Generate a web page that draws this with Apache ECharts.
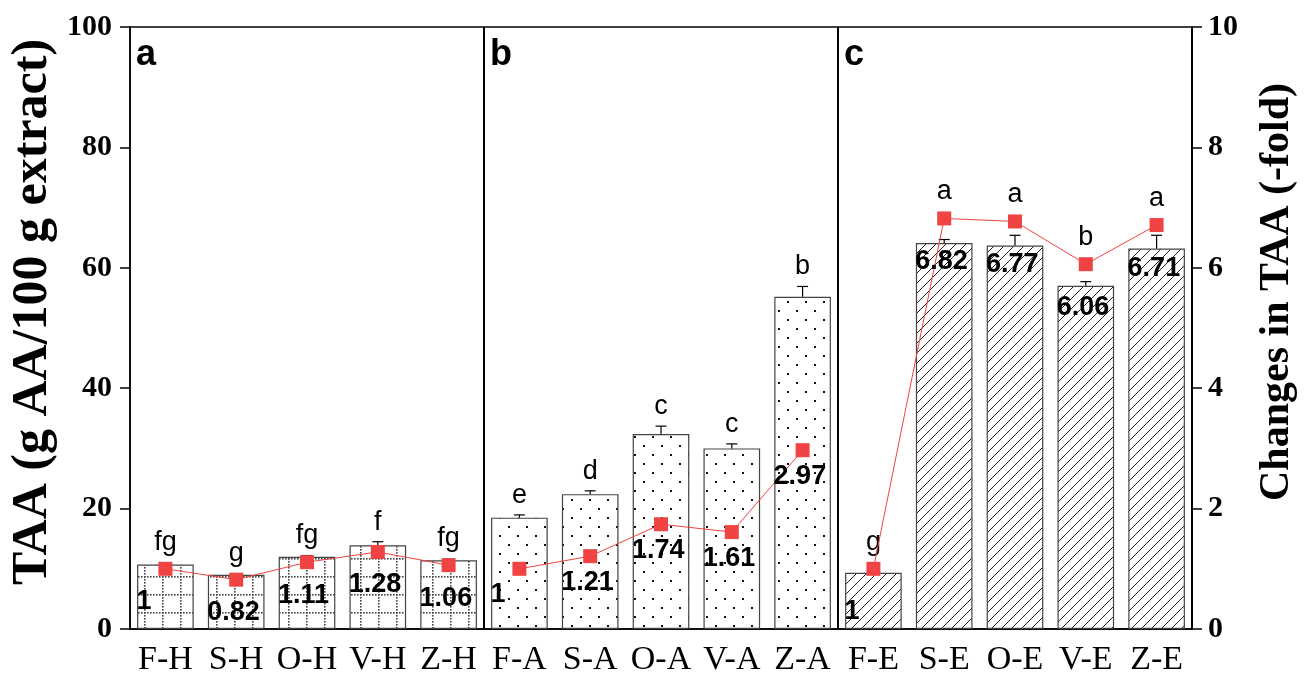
<!DOCTYPE html>
<html>
<head>
<meta charset="utf-8">
<script src="https://cdn.jsdelivr.net/npm/echarts@6/dist/echarts.min.js"></script>
<style>
html,body{margin:0;padding:0;background:#fff;}
#chart{width:1309px;height:679px;}
</style>
</head>
<body>
<div id="chart"></div>
<script>
// ---------- data ----------
const categories = ['F-H','S-H','O-H','V-H','Z-H','F-A','S-A','O-A','V-A','Z-A','F-E','S-E','O-E','V-E','Z-E'];
const taaValues  = [10.7, 9.0, 12.0, 13.9, 11.4, 18.5, 22.4, 32.4, 30.0, 55.2, 9.35, 64.1, 63.7, 57.0, 63.2];
const taaErrors  = [0.2, 0.15, 0.2, 0.6, 0.2, 0.45, 0.55, 1.3, 0.75, 1.7, 0.1, 0.6, 1.7, 0.7, 2.2];
const foldValues = [1, 0.82, 1.11, 1.28, 1.06, 1, 1.21, 1.74, 1.61, 2.97, 1, 6.82, 6.77, 6.06, 6.71];
const letters    = ['fg','g','fg','f','fg','e','d','c','c','b','g','a','a','b','a'];
const panelLabels = ['a','b','c'];
const leftTicks = [0, 20, 40, 60, 80, 100];
const rightTicks = [0, 2, 4, 6, 8, 10];

// ---------- styles ----------
const RED = '#f04343';
const SERIF = '"Liberation Serif", "Times New Roman", serif';
const SANS = '"Liberation Sans", Arial, sans-serif';
const foldLabelOffset = [33, 26, 43]; // px below marker, per panel

function makeGridPattern(){
  const c = document.createElement('canvas'); c.width = 18; c.height = 18;
  const g = c.getContext('2d');
  g.fillStyle = '#fff'; g.fillRect(0,0,18,18);
  g.fillStyle = '#444';
  for (let k = 0; k < 18; k += 3) { g.fillRect(k, 0, 1.6, 1.6); g.fillRect(0, k, 1.6, 1.6); }
  return c;
}
function makeDotPattern(){
  const c = document.createElement('canvas'); c.width = 18; c.height = 18;
  const g = c.getContext('2d');
  g.fillStyle = '#fff'; g.fillRect(0,0,18,18);
  g.fillStyle = '#111';
  g.fillRect(4, 4, 2, 2); g.fillRect(13, 13, 2, 2);
  return c;
}
function makeHatchPattern(){
  const c = document.createElement('canvas'); c.width = 10; c.height = 10;
  const g = c.getContext('2d');
  g.fillStyle = '#fff'; g.fillRect(0,0,10,10);
  g.strokeStyle = '#222'; g.lineWidth = 1;
  g.beginPath();
  g.moveTo(-1, 11); g.lineTo(11, -1);
  g.moveTo(-1, 1); g.lineTo(1, -1);
  g.moveTo(9, 11); g.lineTo(11, 9);
  g.stroke();
  return c;
}
const patterns = [makeGridPattern(), makeDotPattern(), makeHatchPattern()];

const barData = taaValues.map((v, i) => ({
  value: v,
  itemStyle: { color: { image: patterns[Math.floor(i / 5)], repeat: 'repeat' } }
}));

const lineSeries = [0, 1, 2].map(gIdx => ({
  type: 'line',
  yAxisIndex: 1,
  data: foldValues.map((v, i) => Math.floor(i / 5) === gIdx ? v : null),
  connectNulls: false,
  symbol: 'rect',
  symbolSize: 14,
  itemStyle: { color: RED },
  lineStyle: { color: RED, width: 1 },
  z: 5,
  silent: true,
  animation: false
}));

const annoData = taaValues.map((v, i) => [i, v, taaErrors[i], foldValues[i]]);

const chart = echarts.init(document.getElementById('chart'), null, { renderer: 'canvas' });
chart.setOption({
  animation: false,
  backgroundColor: '#fff',
  grid: {
    left: 130, right: 117, top: 27, bottom: 50,
    show: true, borderColor: '#000', borderWidth: 1.5,
    outerBoundsMode: 'none'
  },
  xAxis: {
    type: 'category',
    data: categories,
    axisLine: { lineStyle: { color: '#000', width: 1.5 } },
    axisTick: { alignWithLabel: true, length: 10, interval: 0, lineStyle: { color: '#000', width: 1.5 } },
    axisLabel: { interval: 0, margin: 14, fontFamily: SERIF, fontSize: 34, color: '#000' },
    splitLine: {
      show: true,
      interval: function (index) { return index === 5 || index === 10; },
      lineStyle: { color: '#000', width: 2 }
    }
  },
  yAxis: [
    {
      type: 'value', min: leftTicks[0], max: leftTicks[leftTicks.length - 1], interval: 20,
      axisLine: { show: true, lineStyle: { color: '#000', width: 1.5 } },
      axisTick: { show: true, length: 10, lineStyle: { color: '#000', width: 1.5 } },
      axisLabel: { margin: 18, fontFamily: SERIF, fontWeight: 'bold', fontSize: 30, color: '#000' },
      splitLine: { show: false }
    },
    {
      type: 'value', min: rightTicks[0], max: rightTicks[rightTicks.length - 1], interval: 2,
      position: 'right',
      axisLine: { show: true, lineStyle: { color: '#000', width: 1.5 } },
      axisTick: { show: true, length: 10, lineStyle: { color: '#000', width: 1.5 } },
      axisLabel: { margin: 16, fontFamily: SERIF, fontWeight: 'bold', fontSize: 30, color: '#000' },
      splitLine: { show: false }
    }
  ],
  graphic: [
    { type: 'text', x: 33, y: 312, rotation: Math.PI / 2,
      style: { text: 'TAA (g AA/100 g extract)', font: 'bold 50px ' + SERIF, fill: '#000', align: 'center', verticalAlign: 'middle' } },
    { type: 'text', x: 1277, y: 292, rotation: Math.PI / 2,
      style: { text: 'Changes in TAA (-fold)', font: 'bold 42px ' + SERIF, fill: '#000', align: 'center', verticalAlign: 'middle' } },
    { type: 'text', x: 136, y: 55, style: { text: panelLabels[0], font: 'bold 36px ' + SANS, fill: '#000', align: 'left', verticalAlign: 'middle' } },
    { type: 'text', x: 490, y: 55, style: { text: panelLabels[1], font: 'bold 36px ' + SANS, fill: '#000', align: 'left', verticalAlign: 'middle' } },
    { type: 'text', x: 844, y: 55, style: { text: panelLabels[2], font: 'bold 36px ' + SANS, fill: '#000', align: 'left', verticalAlign: 'middle' } }
  ],
  series: [
    {
      type: 'bar',
      data: barData,
      barWidth: '80%',
      itemStyle: { borderColor: '#444', borderWidth: 1.2 },
      z: 2,
      silent: true
    },
    {
      type: 'custom',
      data: annoData,
      z: 4,
      silent: true,
      renderItem: function (params, api) {
        const i = api.value(0), m = api.value(1), e = api.value(2), f = api.value(3);
        const base = api.coord([i, m]);
        const top = api.coord([i, m + e]);
        const mk = api.coord([i, f * 10]);
        const anchor = Math.min(top[1], mk[1] - 7);
        return {
          type: 'group',
          children: [
            { type: 'line', shape: { x1: base[0], y1: base[1], x2: top[0], y2: top[1] }, style: { stroke: '#000', lineWidth: 1.2 } },
            { type: 'line', shape: { x1: top[0] - 5.5, y1: top[1], x2: top[0] + 5.5, y2: top[1] }, style: { stroke: '#000', lineWidth: 1.2 } },
            { type: 'text', x: top[0], y: anchor - 6,
              style: { text: letters[params.dataIndex], font: '27px ' + SANS, fill: '#000', align: 'center', verticalAlign: 'bottom' } }
          ]
        };
      }
    },
    ...lineSeries,
    {
      type: 'custom',
      yAxisIndex: 1,
      data: foldValues.map((v, i) => [i, v]),
      z: 6,
      silent: true,
      renderItem: function (params, api) {
        const i = api.value(0), f = api.value(1);
        const mk = api.coord([i, f]);
        const off = foldLabelOffset[Math.floor(params.dataIndex / 5)];
        return {
          type: 'text', x: mk[0] - 29, y: mk[1] + off,
          style: { text: String(foldValues[params.dataIndex]), font: 'bold 27px ' + SANS, fill: '#000', align: 'left', verticalAlign: 'middle' }
        };
      }
    }
  ]
});
</script>
</body>
</html>
